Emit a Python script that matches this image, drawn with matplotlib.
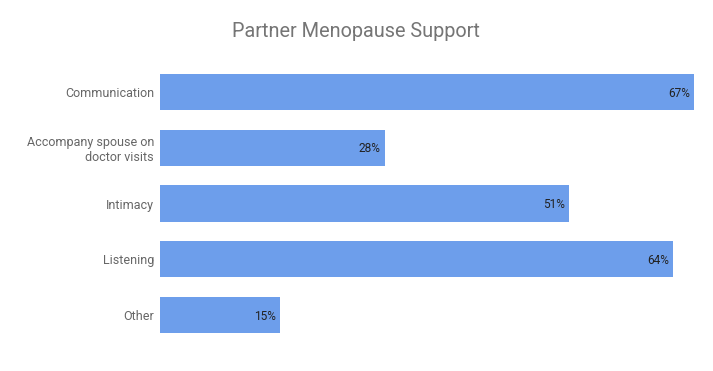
import matplotlib
matplotlib.use('Agg')
import matplotlib.pyplot as plt

plt.rcParams['font.family'] = ['Roboto', 'DejaVu Sans']

categories = ['Communication', 'Accompany spouse on\ndoctor visits', 'Intimacy', 'Listening', 'Other']
values = [67, 28, 51, 64, 15]
labels = ['67%', '28%', '51%', '64%', '15%']

fig = plt.figure(figsize=(7.13, 3.71), dpi=100)
ax = fig.add_axes([160/713, 1 - 343/371, 534/713, 279/371])

ypos = list(range(len(categories)))
bars = ax.barh(ypos, values, height=0.646, color='#6d9eeb')
ax.set_ylim(len(categories) - 0.5, -0.5)
ax.set_xlim(0, 66.6)

for b, lab in zip(bars, labels):
    ax.text(min(b.get_width(), 66.6) - 0.5, b.get_y() + b.get_height() / 2 + 0.02, lab,
            ha='right', va='center', fontsize=8.6, color='#222222')

ax.set_yticks(ypos)
ax.set_yticklabels(categories, fontsize=9, color='#666666')
ax.tick_params(axis='y', length=0, pad=4.3)
ax.set_xticks([])
for s in ax.spines.values():
    s.set_visible(False)

fig.text(356/713, 1 - 31.5/371, 'Partner Menopause Support', ha='center', va='center',
         fontsize=14.3, color='#757575')

fig.savefig('out.png', dpi=100)
